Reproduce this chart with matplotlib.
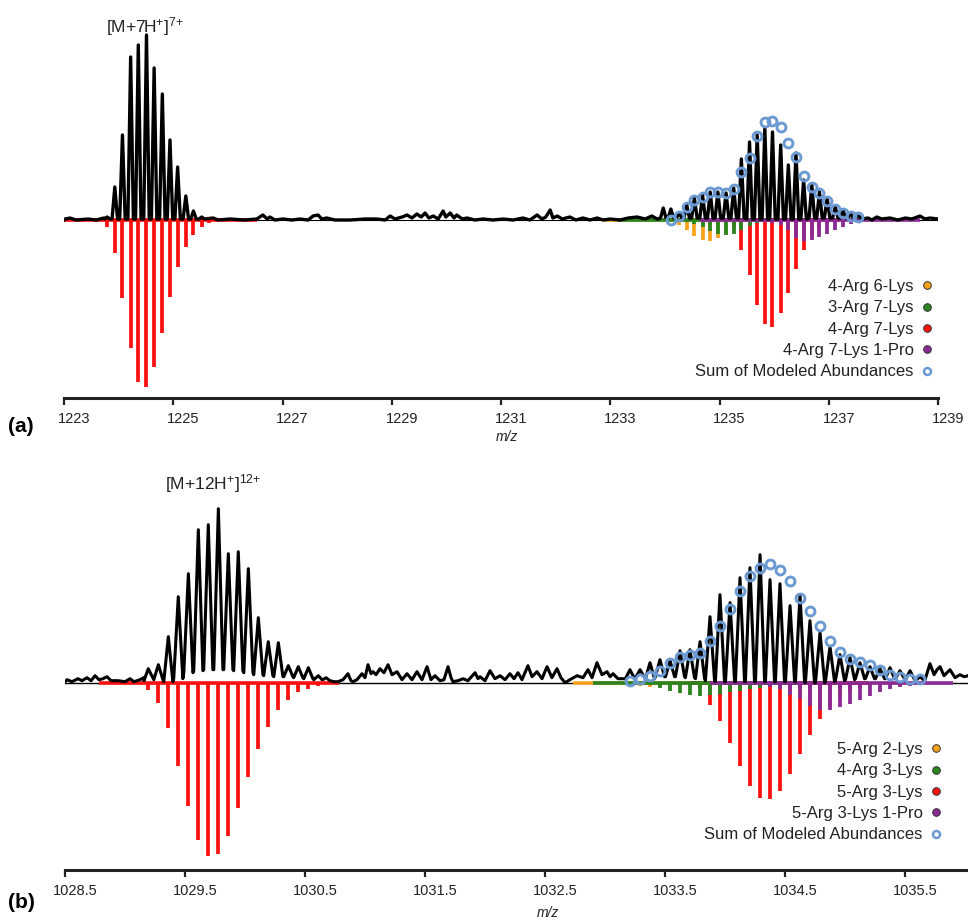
import matplotlib
matplotlib.use("Agg")
import matplotlib.pyplot as plt
from matplotlib.lines import Line2D
from matplotlib.transforms import ScaledTranslation

plt.rcParams['font.family'] = ['Liberation Sans', 'DejaVu Sans']
plt.rcParams['mathtext.fontset'] = 'custom'
plt.rcParams['mathtext.rm'] = 'Liberation Sans'
plt.rcParams['mathtext.it'] = 'Liberation Sans:italic'

# ---------------- panel (a): [M+7H+]7+ ----------------
a_ticks = [1223, 1225, 1227, 1229, 1231, 1233, 1235, 1237, 1239]

a_noise_mz = [1223.00, 1223.02, 1223.11, 1223.22, 1223.44, 1223.59, 1223.73,
              1225.73, 1225.82, 1226.04, 1226.31, 1226.53, 1226.64, 1226.72, 1226.77, 1226.86,
              1227.01, 1227.17, 1227.32, 1227.47, 1227.56, 1227.65, 1227.72, 1227.81, 1227.96,
              1228.24, 1228.51, 1228.73, 1228.88, 1228.97, 1229.06, 1229.19, 1229.28, 1229.37,
              1229.46, 1229.54, 1229.61, 1229.68, 1229.76, 1229.85, 1229.94, 1229.99, 1230.07,
              1230.14, 1230.19, 1230.29, 1230.38, 1230.52, 1230.67, 1230.85, 1231.04, 1231.22,
              1231.40, 1231.53, 1231.66, 1231.75, 1231.82, 1231.90, 1231.95, 1232.03, 1232.12,
              1232.26, 1232.37, 1232.50, 1232.63, 1232.76, 1232.87, 1233.00, 1233.18, 1233.33,
              1233.49, 1233.64, 1233.76, 1233.86,
              1237.61, 1237.72, 1237.79, 1237.88, 1237.97, 1238.12, 1238.27, 1238.40, 1238.52,
              1238.67, 1238.76, 1238.85, 1239.00]
a_noise_h = [0, 1, 2, 0, 1, 0, 2,
             2, 0, 1, 0, 1, 5, 1, 3, 0,
             1, 0, 1, 0, 4, 5, 1, 2, 0,
             0, 1, 1, 0, 4, 1, 3, 5, 2,
             6, 3, 7, 2, 4, 1, 9, 3, 7,
             2, 5, 1, 2, 0, 1, 0, 1, 0,
             2, 0, 5, 1, 3, 10, 2, 4, 1,
             3, 0, 2, 0, 2, 0, 1, 0, 2,
             3, 1, 4, 1,
             1, 2, 0, 3, 1, 2, 0, 2, 1,
             4, 1, 2, 1]

a_left_mz = [1223.79, 1223.93, 1224.07, 1224.22, 1224.36, 1224.51, 1224.65, 1224.80,
             1224.94, 1225.08, 1225.23, 1225.37, 1225.52]
a_left_h = [3, 33, 85, 163, 175, 185, 152, 126, 80, 53, 24, 9, 3]
a_left_foot = [1, 1, 1, 1, 1, 1, 1, 1, 1, 1, 1, 1, 1]

a_left_red_mz = [1223.79, 1223.93, 1224.07, 1224.22, 1224.36, 1224.51, 1224.65, 1224.80,
                 1224.94, 1225.08, 1225.23, 1225.37, 1225.52, 1225.65]
a_left_red = [7, 33, 78, 128, 162, 167, 147, 113, 77, 47, 27, 15, 7, 3]

a_right_mz = [1233.97, 1234.11, 1234.26, 1234.40, 1234.54, 1234.69, 1234.83, 1234.97, 1235.12,
              1235.26, 1235.40, 1235.55, 1235.69, 1235.83, 1235.97, 1236.12, 1236.26, 1236.40,
              1236.54, 1236.69, 1236.83, 1236.97, 1237.12, 1237.26, 1237.40, 1237.54]
a_right_h = [12, 11, 7, 15, 22, 25, 28, 28, 27, 32, 61, 78, 85, 92, 88, 75, 55, 67, 40, 35,
             28, 22, 13, 10, 6, 4]
a_right_foot = [2, 2, 2, 2, 2, 2, 2, 2, 2, 2, 2, 1, 1, 1, 1, 1, 1, 1, 1, 2, 2, 2, 2, 2, 2, 2]

a_sum_mz = a_right_mz[1:]
a_sum = [0, 4, 13, 20, 23, 28, 28, 27, 31, 48, 62, 84, 98, 99, 93, 77, 63, 44, 33, 27, 19,
         11, 7, 4, 3]

a_orange_mz = [1234.26, 1234.40, 1234.54, 1234.69, 1234.83, 1234.97, 1235.12, 1235.26,
               1235.40, 1235.55]
a_orange = [5, 10, 16, 20, 21, 18, 14, 9, 5, 2]
a_green_mz = [1234.40, 1234.54, 1234.69, 1234.83, 1234.97, 1235.12, 1235.26, 1235.40,
              1235.55, 1235.69, 1235.83]
a_green = [2, 4, 7, 11, 14, 15, 14, 10, 6, 3, 1]
a_red_mz = [1235.12, 1235.26, 1235.40, 1235.55, 1235.69, 1235.83, 1235.97, 1236.12, 1236.26,
            1236.40, 1236.54, 1236.69, 1236.83, 1236.97]
a_red = [2, 8, 30, 55, 85, 104, 107, 93, 73, 49, 30, 17, 9, 4]
a_purple_mz = [1235.83, 1235.97, 1236.12, 1236.26, 1236.40, 1236.54, 1236.69, 1236.83,
               1236.97, 1237.12, 1237.26, 1237.40, 1237.54]
a_purple = [2, 3, 5, 10, 18, 21, 20, 17, 14, 10, 7, 4, 2]

# m/z range covered by each modeled species (drawn as its zero line)
a_span_red_left = (1222.95, 1226.53)
a_span_orange = (1232.87, 1235.60)
a_span_green = (1233.14, 1235.90)
a_span_red = (1234.64, 1237.20)
a_span_purple = (1234.64, 1238.67)

a_labels = ['4-Arg 6-Lys', '3-Arg 7-Lys', '4-Arg 7-Lys', '4-Arg 7-Lys 1-Pro',
            'Sum of Modeled Abundances']

# ---------------- panel (b): [M+12H+]12+ ----------------
b_ticks = [1028.5, 1029.5, 1030.5, 1031.5, 1032.5, 1033.5, 1034.5, 1035.5]

b_noise_mz = [1028.500, 1028.517, 1028.558, 1028.608, 1028.642, 1028.683, 1028.717, 1028.750,
              1028.783, 1028.817, 1028.850, 1028.883, 1028.942, 1029.000, 1029.042, 1029.075,
              1029.125, 1029.158,
              1030.642, 1030.675, 1030.708, 1030.742, 1030.775, 1030.817, 1030.858, 1030.883,
              1030.900, 1030.933, 1030.975, 1031.000, 1031.025, 1031.050, 1031.067, 1031.092,
              1031.125, 1031.158, 1031.192, 1031.225, 1031.267, 1031.308, 1031.350, 1031.392,
              1031.433, 1031.475, 1031.517, 1031.550, 1031.583, 1031.625, 1031.658, 1031.692,
              1031.717, 1031.733, 1031.775, 1031.817, 1031.858, 1031.917, 1031.942, 1031.958,
              1032.000, 1032.042, 1032.083, 1032.125, 1032.167, 1032.208, 1032.242, 1032.275,
              1032.308, 1032.358, 1032.392, 1032.433, 1032.475, 1032.517, 1032.558, 1032.600,
              1032.633, 1032.667, 1032.708, 1032.767, 1032.817, 1032.858, 1032.892, 1032.933,
              1032.975, 1033.017, 1033.042, 1033.067, 1033.108,
              1035.667, 1035.708, 1035.742, 1035.767, 1035.792, 1035.825, 1035.875, 1035.917,
              1035.958, 1035.992, 1036.025]
b_noise_h = [1, 3, 1, 4, 2, 5, 2, 7,
             3, 4, 6, 2, 2, 1, 4, 1,
             3, 2,
             3, 5, 2, 1, 1, 3, 9, 2,
             1, 3, 9, 5, 18, 9, 11, 8,
             14, 10, 18, 8, 11, 3, 9, 3,
             11, 3, 16, 3, 7, 2, 3, 16,
             5, 1, 2, 4, 2, 10, 4, 6,
             2, 12, 4, 7, 3, 9, 4, 10,
             3, 17, 6, 11, 4, 16, 5, 14,
             5, 0, 3, 7, 5, 13, 5, 20,
             8, 11, 6, 9, 4,
             3, 19, 8, 13, 16, 7, 13, 5,
             8, 6, 7]

b_left_mz = [1029.194, 1029.278, 1029.361, 1029.444, 1029.528, 1029.611, 1029.694, 1029.778,
             1029.861, 1029.944, 1030.028, 1030.111, 1030.194, 1030.278, 1030.361, 1030.444,
             1030.528, 1030.611]
b_left_h = [14, 18, 46, 86, 109, 153, 158, 174, 129, 131, 114, 65, 41, 40, 17, 16, 15, 7]
b_left_foot = [5, 3, 1, 4, 10, 12, 13, 13, 13, 12, 10, 8, 7, 6, 6, 5, 4, 3]
b_left_red = [7, 20, 45, 83, 123, 157, 173, 171, 153, 125, 94, 66, 44, 27, 17, 9, 6, 3]

b_right_mz = [1033.208, 1033.292, 1033.375, 1033.458, 1033.542, 1033.625, 1033.708, 1033.792,
              1033.875, 1033.958, 1034.042, 1034.125, 1034.208, 1034.292, 1034.375, 1034.458,
              1034.542, 1034.625, 1034.708, 1034.792, 1034.875, 1034.958, 1035.042, 1035.125,
              1035.208, 1035.292, 1035.375, 1035.458, 1035.542, 1035.625]
b_right_h = [13, 13, 20, 23, 22, 32, 33, 41, 66, 88, 80, 105, 115, 128, 103, 99, 77, 88, 62,
             50, 36, 28, 25, 20, 16, 14, 15, 12, 12, 6]
b_right_foot = [4, 5, 4, 6, 6, 6, 5, 4, 2, 1, 1, 1, 1, 1, 1, 1, 1, 1, 0, 0, 1, 2, 3, 4, 4, 4,
                4, 4, 3, 2]
b_sum = [2, 4, 7, 12, 20, 26, 28, 30, 42, 57, 74, 92, 107, 115, 119, 113, 102, 85, 72, 57, 42,
         31, 24, 21, 18, 13, 8, 6, 4, 4]

b_orange_mz = [1033.208, 1033.292, 1033.375, 1033.458, 1033.542, 1033.625, 1033.708, 1033.792]
b_orange = [1, 3, 4, 4, 4, 3, 2, 1]
b_green_mz = [1033.292, 1033.375, 1033.458, 1033.542, 1033.625, 1033.708, 1033.792, 1033.875,
              1033.958, 1034.042, 1034.125, 1034.208, 1034.292, 1034.375, 1034.458, 1034.542]
b_green = [1, 2, 5, 8, 10, 12, 13, 12, 11, 9, 8, 6, 5, 4, 3, 2]
b_red_mz = [1033.792, 1033.875, 1033.958, 1034.042, 1034.125, 1034.208, 1034.292, 1034.375,
            1034.458, 1034.542, 1034.625, 1034.708, 1034.792, 1034.875, 1034.958, 1035.042,
            1035.125]
b_red = [5, 22, 38, 60, 83, 103, 115, 116, 108, 91, 71, 52, 36, 24, 15, 9, 5]
b_purple_mz = [1034.292, 1034.375, 1034.458, 1034.542, 1034.625, 1034.708, 1034.792, 1034.875,
               1034.958, 1035.042, 1035.125, 1035.208, 1035.292, 1035.375, 1035.458, 1035.542,
               1035.625]
b_purple = [2, 4, 6, 12, 16, 23, 27, 27, 24, 21, 17, 13, 9, 6, 4, 3, 2]

b_span_red_left = (1028.78, 1030.78)
b_span_orange = (1032.73, 1033.90)
b_span_green = (1032.90, 1034.60)
b_span_red = (1033.70, 1035.20)
b_span_purple = (1033.875, 1035.90)

b_labels = ['5-Arg 2-Lys', '4-Arg 3-Lys', '5-Arg 3-Lys', '5-Arg 3-Lys 1-Pro',
            'Sum of Modeled Abundances']

ORANGE = '#F7A21B'
GREEN = '#2A8420'
RED = '#FF1010'
PURPLE = '#8B2A94'
BLUE = '#6B9AD2'

W, H = 968, 923
fig = plt.figure(figsize=(W / 100, H / 100), dpi=100)


def px_axes(left, top, right, bottom):
    return fig.add_axes([left / W, 1 - bottom / H, (right - left) / W, (bottom - top) / H])


def trace(noise_mz, noise_h, clusters, half_width):
    # measured spectrum: noise vertices + each peak drawn foot-apex-foot
    pts = list(zip(noise_mz, noise_h))
    for mz, h, foot in clusters:
        for m, hh, f in zip(mz, h, foot):
            pts += [(m - half_width, f), (m, hh), (m + half_width, f)]
    pts.sort()
    return [p[0] for p in pts], [p[1] for p in pts]


def sticks(ax, mz, depth, span, color, z):
    ax.plot(span, [0, 0], color=color, lw=2.6, solid_capstyle='butt', zorder=z)
    ax.vlines(mz, [-d for d in depth], 0, color=color, lw=2.7, zorder=z)


def style_axis(ax, ticks, labels, xlim, ylim):
    ax.set_xlim(*xlim)
    ax.set_ylim(*ylim)
    for s in ['left', 'top', 'right']:
        ax.spines[s].set_visible(False)
    ax.spines['bottom'].set_linewidth(2.2)
    ax.spines['bottom'].set_color('#222222')
    ax.set_yticks([])
    ax.set_xticks(ticks)
    ax.set_xticklabels(labels)
    ax.tick_params(axis='x', direction='out', length=5, width=1.6, color='#222222',
                   labelsize=10.5, pad=5, labelcolor='#222222')
    for lab in ax.get_xticklabels():
        lab.set_transform(lab.get_transform() + ScaledTranslation(0.1, 0, fig.dpi_scale_trans))
    ax.patch.set_alpha(0)


def legend(ax, labels, anchor):
    cols = [ORANGE, GREEN, RED, PURPLE]
    handles = [Line2D([], [], ls='none', marker='o', ms=5.5, mfc=c, mec='#333333', mew=0.7)
               for c in cols]
    handles.append(Line2D([], [], ls='none', marker='o', ms=5, mfc='white', mec=BLUE, mew=1.8))
    ax.legend(handles, labels, loc='upper right', bbox_to_anchor=(anchor[0] / W, 1 - anchor[1] / H),
              bbox_transform=fig.transFigure, frameon=False, markerfirst=False,
              fontsize=12, labelspacing=0.38, handlelength=0.6, handletextpad=0.5,
              borderpad=0, borderaxespad=0, labelcolor='#222222')


# ---- panel (a)
ax_a = px_axes(64, 20, 938, 398)
style_axis(ax_a, a_ticks, [str(t) for t in a_ticks], (1223, 1239), (-178, 200))

sticks(ax_a, a_left_red_mz, a_left_red, a_span_red_left, RED, 2.0)
sticks(ax_a, a_orange_mz, a_orange, a_span_orange, ORANGE, 2.1)
sticks(ax_a, a_red_mz, a_red, a_span_red, RED, 2.2)
sticks(ax_a, a_green_mz, a_green, a_span_green, GREEN, 2.3)
sticks(ax_a, a_purple_mz, a_purple, a_span_purple, PURPLE, 2.4)
ax_a.axhline(0, color='black', lw=0.8, zorder=1.5)

tx, ty = trace(a_noise_mz, a_noise_h,
               [(a_left_mz, a_left_h, a_left_foot), (a_right_mz, a_right_h, a_right_foot)], 0.05)
ax_a.plot(tx, ty, color='black', lw=2.4, zorder=3)
ax_a.plot(a_sum_mz, a_sum, ls='none', marker='o', ms=6.4, mfc='none', mec=BLUE, mew=2.1,
          zorder=5)
legend(ax_a, a_labels, (932, 279))

# ---- panel (b)
ax_b = px_axes(65, 490, 968, 870)
style_axis(ax_b, b_ticks, [f'{t:.1f}' for t in b_ticks], (1028.5, 1036.025), (-187.3, 192.7))

sticks(ax_b, b_left_mz, b_left_red, b_span_red_left, RED, 2.0)
sticks(ax_b, b_orange_mz, b_orange, b_span_orange, ORANGE, 2.1)
sticks(ax_b, b_red_mz, b_red, b_span_red, RED, 2.2)
sticks(ax_b, b_green_mz, b_green, b_span_green, GREEN, 2.3)
sticks(ax_b, b_purple_mz, b_purple, b_span_purple, PURPLE, 2.4)
ax_b.axhline(0, color='black', lw=1.0, zorder=1.5)

tx, ty = trace(b_noise_mz, b_noise_h,
               [(b_left_mz, b_left_h, b_left_foot), (b_right_mz, b_right_h, b_right_foot)], 0.038)
ax_b.plot(tx, ty, color='black', lw=2.2, zorder=3)
ax_b.plot(b_right_mz, b_sum, ls='none', marker='o', ms=6.4, mfc='none', mec=BLUE, mew=2.1,
          zorder=5)
legend(ax_b, b_labels, (941, 742))

# ---- text labels
fig.text(145 / W, 1 - 27 / H, r'[M+7H$^{+}$]$^{7{+}}$',
         ha='center', va='center', fontsize=12.5, color='#222222')
fig.text(213 / W, 1 - 484 / H, r'[M+12H$^{+}$]$^{12{+}}$',
         ha='center', va='center', fontsize=12.5, color='#222222')
fig.text(8 / W, 1 - 426 / H, '(a)', ha='left', va='center', fontsize=15, fontweight='bold')
fig.text(8 / W, 1 - 903 / H, '(b)', ha='left', va='center', fontsize=15, fontweight='bold')
fig.text(507 / W, 1 - 437 / H, 'm/z', ha='center', va='center', fontsize=10, style='italic',
         color='#222222')
fig.text(548 / W, 1 - 913 / H, 'm/z', ha='center', va='center', fontsize=10, style='italic',
         color='#222222')

fig.savefig('out.png', dpi=100)
